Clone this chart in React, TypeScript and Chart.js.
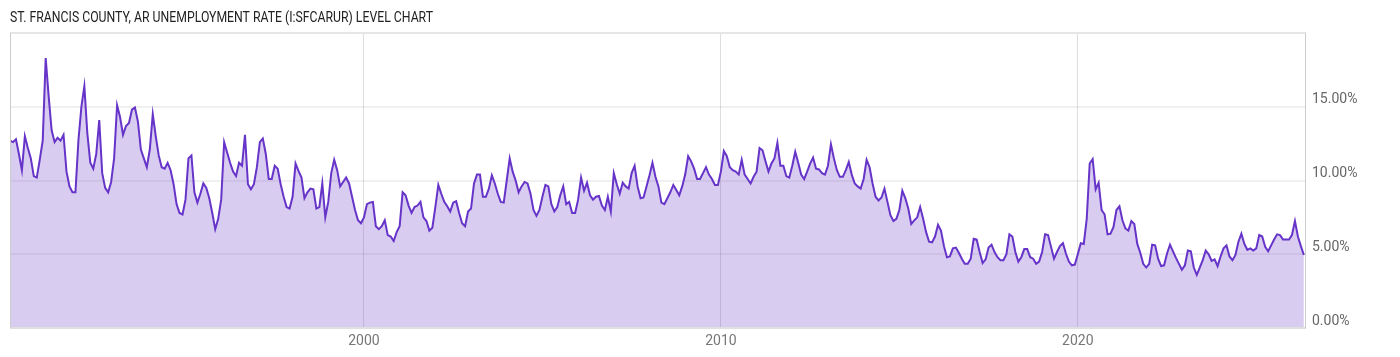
import React, { useEffect, useRef } from "react";
import { Chart, registerables } from "chart.js";

Chart.register(...registerables);

const chartTitle = "ST. FRANCIS COUNTY, AR UNEMPLOYMENT RATE (I:SFCARUR) LEVEL CHART";

// Monthly series starts February 1990
const startYear = 1990;
const startMonth = 2;

const rates1990s = [
  12.7, 12.6, 12.8, 11.8, 10.7, 13.0, 12.2, 11.5, 10.3, 10.2,
  11.4, 12.7, 18.3, 15.7, 13.4, 12.6, 12.9, 12.7, 13.1, 10.6,
  9.6, 9.2, 9.2, 12.7, 15.0, 16.4, 13.2, 11.2, 10.8, 11.8,
  14.1, 10.5, 9.5, 9.2, 9.9, 11.5, 15.1, 14.3, 13.1, 13.7,
  13.9, 14.8, 14.95, 14.0, 12.1, 11.5, 10.9, 12.1, 14.5, 13.0,
  11.7, 10.9, 10.8, 11.2, 10.7, 9.75, 8.4, 7.8, 7.7, 8.7,
  11.5, 11.7, 9.2, 8.5, 9.1, 9.8, 9.5, 8.8, 7.8, 6.7,
  7.4, 8.7, 12.6, 11.9, 11.2, 10.6, 10.3, 11.2,
  11.0, 13.1, 9.75, 9.4, 9.75, 10.9, 12.6, 12.85, 11.8, 10.1,
  10.1, 11.0, 10.8, 9.75, 8.9, 8.2, 8.1, 8.9, 11.15, 10.65,
  10.2, 8.8, 9.2, 9.45, 9.4, 8.1, 8.2, 9.8, 7.5, 8.55,
  10.5, 11.4, 10.7, 9.6, 9.9, 10.2, 9.8, 8.9, 8.0, 7.3,
  7.1,
];

const rates2000s = [
  7.5, 8.4, 8.5, 8.55, 6.9, 6.7, 6.9, 7.3, 6.3,
  6.2, 5.9, 6.5, 6.9, 9.2, 9.0, 8.3, 7.8, 8.2, 8.3,
  8.55, 7.5, 7.25, 6.6, 6.8, 8.2, 9.7, 9.1, 8.55, 8.25,
  7.9, 8.5, 8.6, 7.8, 7.1, 6.9, 7.9,
  8.1, 9.8, 10.4, 10.4, 8.9, 8.9, 9.45, 10.35, 9.8, 9.1,
  8.55, 8.5, 10.0, 11.5, 10.6, 10.0, 9.2, 9.6, 9.9, 9.8,
  9.1, 8.0, 7.6, 8.0, 8.9, 9.7, 9.6, 8.4, 7.9, 8.2,
  9.0, 9.6, 8.4, 8.55, 7.8, 7.8, 8.7, 10.2, 9.3, 9.85,
  9.0, 8.7, 8.9, 8.95, 8.3, 8.0, 8.9, 7.9, 10.5, 9.75,
  9.1, 9.85, 9.6, 9.45, 10.5, 11.0, 9.6, 8.8, 8.85, 9.6,
  10.35, 11.2, 10.25, 9.6, 8.5, 8.4, 8.8, 9.2, 9.7, 9.35,
  9.0, 9.6, 10.4, 11.65, 11.3, 10.8, 10.1, 10.1,
  10.5, 10.9, 10.4, 10.1, 9.7, 9.7,
];

const rates2010s = [
  10.6, 12.0, 11.65, 10.9,
  10.7, 10.6, 10.4, 11.4, 10.4, 10.1, 9.8, 10.25, 10.6, 12.2,
  12.05, 11.3, 10.6, 11.15, 11.5, 12.55, 11.0, 11.0, 10.3, 10.2,
  11.0, 11.95, 11.2, 10.4, 10.1, 10.6, 11.15, 11.55, 10.8, 10.75,
  10.5, 10.4, 11.0, 12.45, 11.5, 10.7, 10.25, 10.25, 10.7, 11.25,
  10.4, 9.8, 9.6, 9.45, 10.1, 11.4, 10.9, 9.8, 8.9, 8.65,
  8.85, 9.45, 8.55, 7.65, 7.25, 7.4, 8.0, 9.3, 8.8, 8.1,
  7.05, 7.3, 7.5, 8.2, 7.4, 6.5, 5.85,
  5.8, 6.2, 7.0, 6.6, 5.55, 4.8, 4.85, 5.4, 5.45, 5.1,
  4.7, 4.35, 4.35, 4.7, 6.05, 6.0, 5.15, 4.4, 4.65, 5.45,
  5.65, 5.15, 4.8, 4.6, 4.6, 5.0, 6.35, 6.2, 5.15, 4.5,
  4.8, 5.35, 5.35, 4.8, 4.7, 4.35, 4.5, 5.15, 6.35, 6.3,
  5.5, 4.7, 5.15, 5.55, 5.75, 5.05, 4.5, 4.25, 4.3,
];

const rates2020s = [
  5.0,
  5.75, 5.7, 7.4, 11.15, 11.45, 9.4, 9.85, 8.0, 7.7, 6.35,
  6.4, 6.85, 8.0, 8.25, 7.3, 6.75, 6.6, 7.25, 7.05, 5.7,
  5.1, 4.35, 4.1, 4.35, 5.65, 5.6, 4.7, 4.2,
  4.25, 5.05, 5.65, 5.2, 4.75, 4.35, 3.95, 4.25, 5.25, 5.2,
  4.1, 3.6, 4.1, 4.6, 5.25, 5.0, 4.55, 4.65, 4.2, 4.85,
  5.4, 5.6, 4.85, 4.6, 4.95, 5.85, 6.4, 5.7, 5.3, 5.4,
  5.25, 5.4, 6.3, 6.2, 5.5, 5.2, 5.6, 6.0, 6.35, 6.3,
  6.0, 6.0, 6.0, 6.3, 7.25, 6.2, 5.55, 4.95,
];

const xTickYears = [2000, 2010, 2020];
const yTickValues = [0, 5, 10, 15];
const yMax = 20;

export default function App() {
  const canvasRef = useRef<HTMLCanvasElement>(null);

  useEffect(() => {
    const canvas = canvasRef.current;
    if (!canvas) return;
    const values = [...rates1990s, ...rates2000s, ...rates2010s, ...rates2020s];
    const points = values.map((v, i) => ({
      x: startYear + (startMonth - 1 + i) / 12,
      y: v,
    }));
    const xMin = points[0].x;
    const xMax = points[points.length - 1].x + 0.06;

    const framePlugin = {
      id: "frame",
      afterDraw(chart: any) {
        const { ctx, chartArea: a } = chart;
        ctx.save();
        ctx.fillStyle = "#e6e6e6";
        ctx.fillRect(a.left, a.top - 1, a.right - a.left, 2);
        ctx.fillStyle = "#e0e0e0";
        ctx.fillRect(a.left, a.bottom - 1, a.right - a.left, 2);
        ctx.fillStyle = "#cccccc";
        ctx.fillRect(a.left, a.top, 1, a.bottom - a.top);
        ctx.fillRect(a.right - 1, a.top, 1, a.bottom - a.top);
        ctx.font = "14px Roboto";
        const w = ctx.measureText(chartTitle).width;
        ctx.translate(10, 21.5);
        ctx.scale(423 / w, 1);
        ctx.fillStyle = "#222222";
        ctx.textBaseline = "alphabetic";
        ctx.textAlign = "left";
        ctx.fillText(chartTitle, 0, 0);
        ctx.restore();
      },
    };

    const chart = new Chart(canvas, {
      type: "line",
      data: {
        datasets: [
          {
            data: points,
            borderColor: "#6634c8",
            borderWidth: 2,
            backgroundColor: "rgba(99, 51, 195, 0.25)",
            fill: "origin",
            pointRadius: 0,
            tension: 0,
          },
        ],
      },
      options: {
        responsive: false,
        animation: false,
        devicePixelRatio: 1,
        layout: { padding: { left: 10, top: 33, right: 0, bottom: 0 } },
        plugins: {
          legend: { display: false },
          tooltip: { enabled: false },
          title: { display: false },
        },
        scales: {
          x: {
            type: "linear",
            min: xMin,
            max: xMax,
            afterBuildTicks: (scale: any) => {
              scale.ticks = xTickYears.map((v) => ({ value: v }));
            },
            afterFit: (scale: any) => {
              scale.height = 29;
            },
            grid: { color: "rgba(0,0,0,0.13)", lineWidth: 1, drawTicks: false },
            border: { display: false },
            ticks: {
              autoSkip: false,
              maxRotation: 0,
              padding: 5,
              color: "#777777",
              font: { family: "Roboto", size: 14 },
              callback: (v: any) => String(v),
            },
          },
          y: {
            position: "right",
            min: 0,
            max: yMax,
            afterBuildTicks: (scale: any) => {
              scale.ticks = yTickValues.map((v) => ({ value: v }));
            },
            afterFit: (scale: any) => {
              scale.width = 94;
            },
            grid: { color: "rgba(0,0,0,0.06)", lineWidth: 2, drawTicks: false },
            border: { display: false },
            ticks: {
              padding: 6,
              labelOffset: -7,
              color: "#666666",
              font: { family: "Roboto", size: 14 },
              callback: (v: any) => Number(v).toFixed(2) + "%",
            },
          },
        },
      },
      plugins: [framePlugin],
    });

    return () => chart.destroy();
  }, []);

  return (
    <div style={{ position: "fixed", left: 0, top: 0, width: 1400, height: 357, background: "#fff" }}>
      <canvas ref={canvasRef} width={1400} height={357} style={{ display: "block", width: 1400, height: 357 }} />
    </div>
  );
}
